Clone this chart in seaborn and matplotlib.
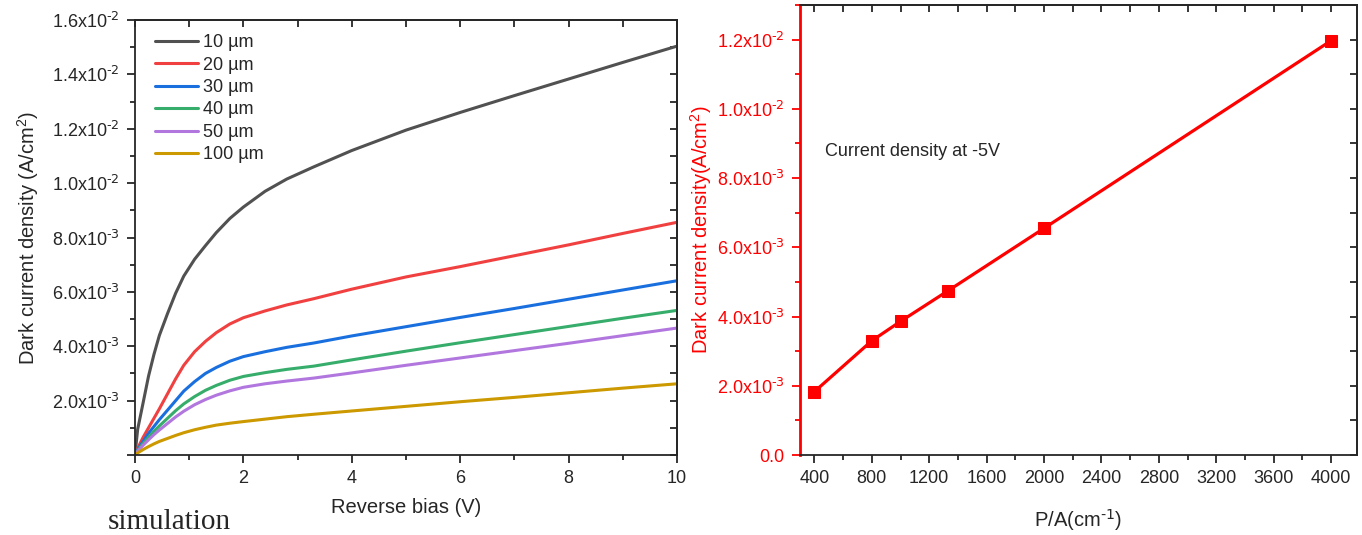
import numpy as np
import pandas as pd
import seaborn as sns
import matplotlib.pyplot as plt
import matplotlib.ticker as ticker

# left panel: dark current density vs reverse bias (values in 1e-3 A/cm2)
bias = [0, 0.05, 0.15, 0.25, 0.35, 0.45, 0.6, 0.75, 0.9, 1.1, 1.3, 1.5, 1.75, 2.0,
        2.4, 2.8, 3.3, 4.0, 5.0, 6.0, 7.0, 8.0, 9.0, 10.0]
j_10 = [0, 0.95, 1.92, 2.9, 3.7, 4.4, 5.2, 5.95, 6.58, 7.2, 7.7, 8.18, 8.7, 9.12,
        9.7, 10.15, 10.6, 11.2, 11.95, 12.6, 13.22, 13.83, 14.44, 15.04]
j_20 = [0, 0.25, 0.65, 1.0, 1.35, 1.7, 2.25, 2.8, 3.3, 3.8, 4.18, 4.5, 4.82, 5.05,
        5.3, 5.52, 5.75, 6.1, 6.55, 6.93, 7.33, 7.73, 8.15, 8.56]
j_30 = [0, 0.2, 0.5, 0.8, 1.05, 1.3, 1.65, 2.0, 2.35, 2.7, 3.0, 3.22, 3.45, 3.62,
        3.8, 3.96, 4.12, 4.38, 4.72, 5.06, 5.39, 5.73, 6.07, 6.41]
j_40 = [0, 0.17, 0.42, 0.65, 0.87, 1.07, 1.35, 1.63, 1.88, 2.15, 2.38, 2.56, 2.75, 2.89,
        3.03, 3.15, 3.27, 3.5, 3.82, 4.13, 4.43, 4.73, 5.03, 5.32]
j_50 = [0, 0.14, 0.36, 0.56, 0.75, 0.92, 1.16, 1.4, 1.61, 1.85, 2.04, 2.2, 2.36, 2.49,
        2.62, 2.72, 2.83, 3.02, 3.3, 3.57, 3.84, 4.11, 4.39, 4.67]
j_100 = [0, 0.08, 0.2, 0.31, 0.41, 0.5, 0.61, 0.72, 0.82, 0.93, 1.02, 1.1, 1.17, 1.23,
         1.32, 1.41, 1.5, 1.62, 1.79, 1.96, 2.12, 2.29, 2.46, 2.62]
sizes = ["10 µm", "20 µm", "30 µm", "40 µm", "50 µm", "100 µm"]
colors = ["#515151", "#F14040", "#1A6FDF", "#37AD6B", "#B177DE", "#CC9900"]

# right panel: current density at -5V vs perimeter/area
pa = [400, 800, 1000, 1333, 2000, 4000]
j_5v = [1.83, 3.30, 3.86, 4.75, 6.55, 11.97]

sns.set_style("ticks")
plt.rcParams['font.family'] = ['Liberation Sans', 'DejaVu Sans']
plt.rcParams['mathtext.default'] = 'regular'
plt.rcParams['axes.linewidth'] = 1.3

frames = []
for name, vals in zip(sizes, [j_10, j_20, j_30, j_40, j_50, j_100]):
    frames.append(pd.DataFrame({"bias": bias, "j": np.array(vals) * 1e-3, "size": name}))
df = pd.concat(frames, ignore_index=True)
df_pa = pd.DataFrame({"pa": pa, "j": np.array(j_5v) * 1e-3})


def sci(v, _):
    if abs(v) < 1e-12:
        return ""
    e = int(np.floor(np.log10(abs(v)) + 1e-9))
    return "%.1fx10$^{\\text{%d}}$" % (v / 10 ** e, e)


def sci0(v, p):
    if abs(v) < 1e-12:
        return "0.0"
    return sci(v, p)


def mirror(ax, xstep, ystep):
    top = ax.secondary_xaxis("top")
    top.xaxis.set_major_locator(ticker.MultipleLocator(xstep))
    top.xaxis.set_major_formatter(ticker.NullFormatter())
    top.tick_params(direction="in", length=5, width=1.3)
    right = ax.secondary_yaxis("right")
    right.yaxis.set_major_locator(ticker.MultipleLocator(ystep))
    right.yaxis.set_major_formatter(ticker.NullFormatter())
    right.tick_params(direction="in", length=5, width=1.3)


fig = plt.figure(figsize=(13.62, 5.35), dpi=100)
ax1 = fig.add_axes([0.0991, 0.1495, 0.3980, 0.8131])
ax2 = fig.add_axes([0.5874, 0.1495, 0.4089, 0.8412])

sns.lineplot(data=df, x="bias", y="j", hue="size", palette=colors, estimator=None,
             linewidth=2.2, ax=ax1)
ax1.set_xlim(0, 10)
ax1.set_ylim(0, 0.016)
ax1.xaxis.set_major_locator(ticker.MultipleLocator(2))
ax1.xaxis.set_minor_locator(ticker.MultipleLocator(1))
ax1.yaxis.set_major_locator(ticker.MultipleLocator(0.002))
ax1.yaxis.set_minor_locator(ticker.MultipleLocator(0.001))
ax1.yaxis.set_major_formatter(ticker.FuncFormatter(sci))
ax1.tick_params(which="major", direction="out", length=6, width=1.3, labelsize=13, pad=5)
ax1.tick_params(which="minor", direction="out", length=3.5, width=1.3)
ax1.set_xlabel("Reverse bias (V)", fontsize=14.5, labelpad=8)
ax1.set_ylabel("Dark current density (A/cm$^2$)", fontsize=14.5, labelpad=8)
ax1.legend(loc="upper left", bbox_to_anchor=(0.023, 0.984), frameon=False, fontsize=13,
           handlelength=2.4, labelspacing=0.3, handletextpad=0.3, borderaxespad=0)
mirror(ax1, 1, 0.001)

sns.lineplot(data=df_pa, x="pa", y="j", color="#FF0000", marker="s", markersize=8,
             markeredgecolor="#FF0000", linewidth=2.3, ax=ax2)
ax2.set_xlim(300, 4180)
ax2.set_ylim(0, 0.013)
ax2.xaxis.set_major_locator(ticker.MultipleLocator(400))
ax2.xaxis.set_minor_locator(ticker.MultipleLocator(200))
ax2.yaxis.set_major_locator(ticker.MultipleLocator(0.002))
ax2.yaxis.set_minor_locator(ticker.MultipleLocator(0.001))
ax2.yaxis.set_major_formatter(ticker.FuncFormatter(sci0))
ax2.tick_params(which="major", direction="out", length=6, width=1.3, labelsize=13, pad=5)
ax2.tick_params(which="minor", direction="out", length=3.5, width=1.3)
ax2.tick_params(axis="y", which="both", colors="#FF0000")
ax2.spines["left"].set_color("#FF0000")
ax2.spines["left"].set_linewidth(2)
ax2.set_xlabel("P/A(cm$^{\\text{-1}}$)", fontsize=14.5, labelpad=14)
ax2.set_ylabel("Dark current density(A/cm$^2$)", fontsize=14.5, color="#FF0000", labelpad=2)
ax2.text(0.045, 0.665, "Current density at -5V", transform=ax2.transAxes, fontsize=13)
mirror(ax2, 200, 0.001)

fig.text(0.079, 0.012, "simulation", family="Liberation Serif", fontsize=21)

fig.savefig("out.png", dpi=100)
